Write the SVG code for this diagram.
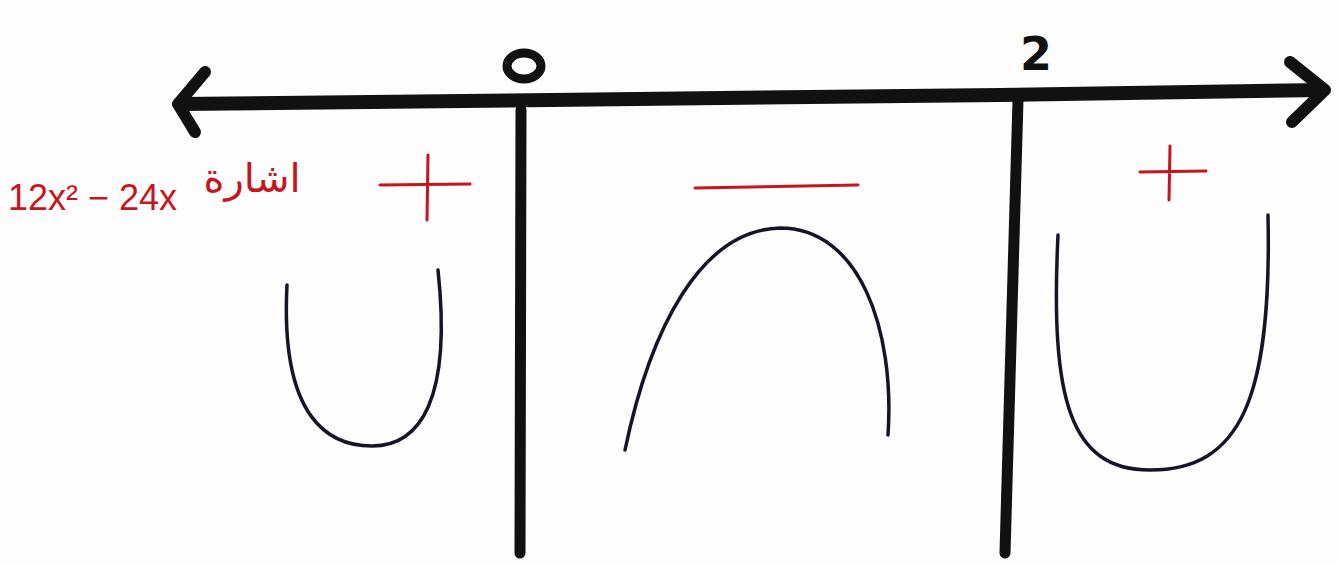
<svg xmlns="http://www.w3.org/2000/svg" width="1339" height="565" viewBox="0 0 1339 565">
<style>
.ax{stroke:#111;fill:none;stroke-linecap:round;stroke-linejoin:round}
.red{stroke:#c4161c;stroke-width:3;fill:none;stroke-linecap:round}
.crv{stroke:#15152a;stroke-width:3.5;fill:none;stroke-linecap:round}
.num{font-family:"DejaVu Sans",sans-serif;font-weight:bold;fill:#111}
.lbl{font-family:"Liberation Sans","DejaVu Sans",sans-serif;fill:#c4161c}
</style>
<rect width="1339" height="565" fill="#fdfdfd"/>
<g id="connectors">
<path class="ax" stroke-width="14" d="M180,104 C400,100 700,98 1000,95 C1150,93 1250,92 1322,90"/>
<path class="ax" stroke-width="12" d="M205,72 L178,104 L195,132"/>
<path class="ax" stroke-width="12" d="M1290,62 L1325,90 L1292,122"/>
<path class="ax" stroke-width="11" d="M521,110 L520,553"/>
<path class="ax" stroke-width="11" d="M1018,100 L1005,553"/>
</g>
<g id="tick-0"><ellipse cx="524" cy="66" rx="17" ry="13" fill="none" stroke="#111" stroke-width="9"/></g>
<g id="tick-2"><text class="num" x="1020" y="70" font-size="46">2</text></g>
<g id="label">
<text class="lbl" x="8" y="210" font-size="36">12x² − 24x</text>
<text class="lbl" x="252" y="192" font-size="40" text-anchor="middle">اشارة</text>
</g>
<g id="sign-1"><path class="red" d="M380,185 L470,184 M428,155 L427,220"/></g>
<g id="sign-2"><path class="red" d="M695,188 L858,185"/></g>
<g id="sign-3"><path class="red" d="M1140,172 L1206,171 M1170,146 L1169,200"/></g>
<g id="curve-1"><path class="crv" d="M287,285 C280,420 330,446 372,446 C420,446 452,400 438,270"/></g>
<g id="curve-2"><path class="crv" d="M625,450 C650,330 700,230 780,228 C860,228 895,330 888,435"/></g>
<g id="curve-3"><path class="crv" d="M1058,235 C1050,400 1070,470 1150,470 C1240,470 1272,400 1268,215"/></g>
</svg>
